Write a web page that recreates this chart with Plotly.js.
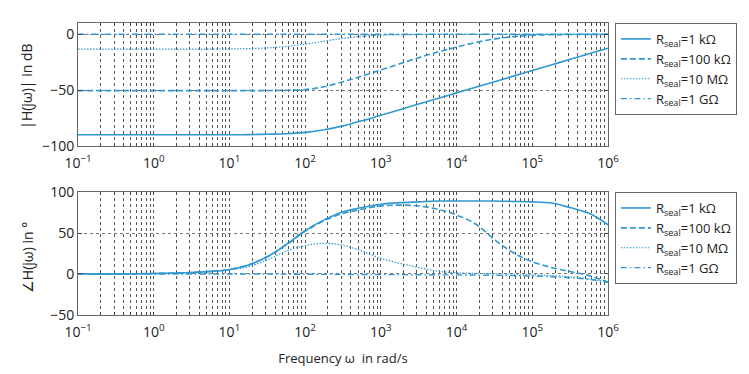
<!DOCTYPE html>
<html>
<head>
<meta charset="utf-8">
<script src="https://cdn.plot.ly/plotly-3.0.1.min.js"></script>
<style>
  html, body { margin: 0; padding: 0; background: #fff; }
  #bode { width: 749px; height: 374px; }
</style>
</head>
<body>
<div id="bode"></div>
<script>
// frequencies in rad/s (quarter decades in the region where the curves bend)
const omega = [0.1, 0.316, 1, 3.16, 10, 17.8, 31.6, 56.2, 100, 178, 316, 562, 1000,
               1778, 3162, 5623, 10000, 17783, 31623, 56234, 100000, 177828, 316228, 562341, 1000000];

const sealNames = ["R<sub>seal</sub>=1 kΩ", "R<sub>seal</sub>=100 kΩ", "R<sub>seal</sub>=10 MΩ", "R<sub>seal</sub>=1 GΩ"];

// magnitude in dB
const mag1k   = [-90, -90, -90, -90, -90, -89.8, -89.5, -89, -87.8, -85.5, -82, -77.5, -72.5,
                 -67.5, -62.5, -57.5, -52.5, -47.5, -42.5, -37.5, -32.5, -27.5, -22.5, -17.5, -12.5];
const mag100k = [-50.5, -50.5, -50.5, -50.5, -50.5, -50.5, -50.4, -50.2, -49.5, -47, -42.5, -37.5, -32,
                 -26.5, -21, -16, -11.5, -7.5, -4.2, -2.2, -1, -0.5, -0.3, -0.2, -0.1];
const mag10M  = [-13.3, -13.3, -13.3, -13.3, -13.2, -12.9, -12.3, -11, -9, -6.3, -3.8, -1.9, -0.9,
                 -0.5, -0.3, -0.2, -0.2, -0.1, -0.1, -0.1, -0.1, -0.1, -0.1, -0.1, -0.1];
const mag1G   = [-0.1, -0.1, -0.1, -0.1, -0.1, -0.1, -0.1, -0.1, -0.1, -0.1, -0.1, -0.1, -0.1,
                 -0.1, -0.1, -0.1, -0.1, -0.1, -0.1, -0.1, -0.1, -0.1, -0.1, -0.1, -0.1];

// phase in degrees
const ph1k   = [0, 0.2, 0.6, 1.8, 5.5, 11, 21, 36, 53, 66, 76, 81, 85,
                87, 88, 89, 89, 89, 89, 88.5, 88, 86.5, 81, 74, 60];
const ph100k = [0, 0.2, 0.6, 1.8, 5.5, 11, 21, 35.5, 52, 65, 74, 79, 83,
                84, 83, 79, 72, 61, 42, 26, 15, 8, 3, -2, -10];
const ph10M  = [0, 0.2, 0.5, 1.5, 5, 9, 17, 28, 34.5, 37.5, 35, 28, 19,
                13, 8, 3.5, 1.5, 0.8, 0.3, -0.3, -1, -2, -3.5, -6, -10];
const ph1G   = [0, 0, 0, 0, 0, 0, 0, -0.2, -0.3, -0.4, -0.5, -0.6, -0.7,
                -0.8, -0.9, -1, -1.1, -1.3, -1.6, -2, -2.5, -3.3, -4.5, -6.5, -10];

const decades = [-1, 0, 1, 2, 3, 4, 5, 6];
const magTicks = [-100, -50, 0];
const phaseTicks = [-50, 0, 50, 100];

const lineColor = "#3098d0";
const styles = [
    {dash: "solid", width: 1.6},
    {dash: "6px,3px", width: 1.6},
    {dash: "1.5px,1.5px", width: 1.2},
    {dash: "6px,3px,1.5px,3px", width: 1.4}
];

const mags = [mag1k, mag100k, mag10M, mag1G];
const phases = [ph1k, ph100k, ph10M, ph1G];

// log tick positions 1..9 per decade, only decades labelled
const tickVals = [];
const tickText = [];
for (let d = 0; d < decades.length; d++) {
    const base = Math.pow(10, decades[d]);
    const last = (d == decades.length - 1) ? 1 : 9;
    for (let k = 1; k <= last; k++) {
        tickVals.push(k * base);
        tickText.push(k == 1 ? "10<sup>" + String(decades[d]).replace("-", "−") + "</sup>" : "");
    }
}

const data = [];
for (let i = 0; i < 4; i++) {
    data.push({x: omega, y: mags[i], xaxis: "x", yaxis: "y", name: sealNames[i],
               mode: "lines", line: {color: lineColor, dash: styles[i].dash, width: styles[i].width, shape: "spline"},
               legend: "legend"});
}
for (let i = 0; i < 4; i++) {
    data.push({x: omega, y: phases[i], xaxis: "x2", yaxis: "y2", name: sealNames[i],
               mode: "lines", line: {color: lineColor, dash: styles[i].dash, width: styles[i].width, shape: "spline"},
               legend: "legend2"});
}

const font = {family: "Open Sans, Liberation Sans, sans-serif", size: 12, color: "#222"};

function xAxis(anchor) {
    return {
        type: "log", range: [-1, 6], anchor: anchor,
        tickvals: tickVals, ticktext: tickText,
        ticks: "inside", ticklen: 3, tickcolor: "#444",
        showline: true, linecolor: "#666", linewidth: 1, mirror: "allticks",
        showgrid: true, gridcolor: "#555", griddash: "dot", gridwidth: 1,
        zeroline: false, tickfont: {size: 14}, ticklabelstandoff: 4
    };
}

function yAxis(anchor, domain, range, ticks) {
    return {
        anchor: anchor, domain: domain, range: range,
        tickvals: ticks, ticktext: ticks.map(v => String(v).replace("-", "−")),
        ticks: "inside", ticklen: 4, tickcolor: "#444",
        showline: true, linecolor: "#666", linewidth: 1, mirror: "allticks",
        showgrid: true, gridcolor: "#777", griddash: "dot", gridwidth: 1,
        zeroline: false, tickfont: {size: 14}
    };
}

const legendBase = {
    xanchor: "left", yanchor: "top", x: 1.013,
    bgcolor: "#fff", bordercolor: "#666", borderwidth: 1,
    font: {size: 13}, itemwidth: 30, tracegroupgap: 0
};

const layout = {
    width: 749, height: 374,
    margin: {l: 78, r: 139, t: 23, b: 59},
    paper_bgcolor: "#fff", plot_bgcolor: "#fff",
    font: font,
    showlegend: true,
    xaxis: xAxis("y"),
    xaxis2: Object.assign(xAxis("y2"), {title: {text: "Frequency ω  in rad/s", font: {size: 13}, standoff: 14}}),
    yaxis: yAxis("x", [0.5788, 1], [-100, 10], magTicks),
    yaxis2: yAxis("x2", [0, 0.4212], [-50, 100], phaseTicks),
    legend: Object.assign({}, legendBase, {y: 1}),
    legend2: Object.assign({}, legendBase, {y: 0.4212}),
    annotations: [
        {text: "|H(jω)| in dB", xref: "paper", yref: "paper", x: -0.096, y: 0.782,
         xanchor: "center", yanchor: "middle",
         textangle: -90, showarrow: false, font: {size: 14}},
        {text: "∠H(jω) in °", xref: "paper", yref: "paper", x: -0.096, y: 0.195,
         xanchor: "center", yanchor: "middle",
         textangle: -90, showarrow: false, font: {size: 14}}
    ]
};

const config = {displayModeBar: false, staticPlot: true};

Plotly.newPlot("bode", data, layout, config);
</script>
</body>
</html>
